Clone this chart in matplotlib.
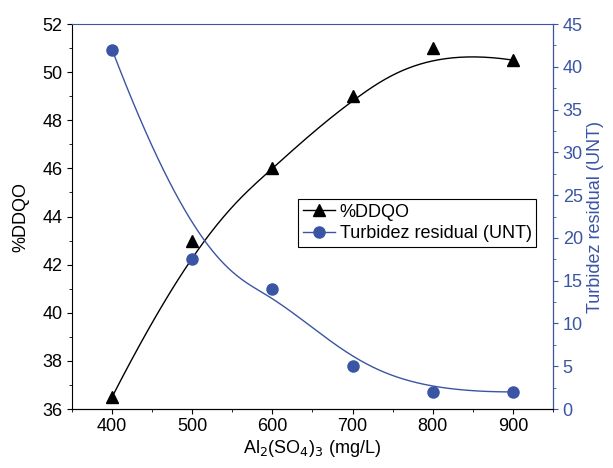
import numpy as np
import matplotlib
matplotlib.use('Agg')
import matplotlib.pyplot as plt
from matplotlib.ticker import MultipleLocator

plt.rcParams.update({'font.family': 'Liberation Sans', 'font.size': 13,
                     'xtick.direction': 'out', 'ytick.direction': 'out'})

BLUE = '#3A55A4'

dose = [400, 500, 600, 700, 800, 900]
ddqo = [36.5, 43.0, 46.0, 49.0, 51.0, 50.5]
turb = [42.0, 17.5, 14.0, 5.0, 2.0, 2.0]


def bspline(xp, yp, n=300, k=3):
    # clamped cubic B-spline using the points as control points
    pts = np.column_stack([xp, yp]).astype(float)
    m = len(pts)
    knots = np.concatenate([np.zeros(k), np.arange(m - k + 1), np.full(k, m - k)]).astype(float)
    t = np.linspace(0, m - k, n)
    t[-1] -= 1e-9
    N = np.zeros((n, len(knots) - 1))
    for i in range(len(knots) - 1):
        N[:, i] = (knots[i] <= t) & (t < knots[i + 1])
    for d in range(1, k + 1):
        Nn = np.zeros((n, len(knots) - 1 - d))
        for i in range(len(knots) - 1 - d):
            a = knots[i + d] - knots[i]
            b = knots[i + d + 1] - knots[i + 1]
            if a > 0:
                Nn[:, i] += (t - knots[i]) / a * N[:, i]
            if b > 0:
                Nn[:, i] += (knots[i + d + 1] - t) / b * N[:, i + 1]
        N = Nn
    c = N @ pts
    return c[:, 0], c[:, 1]


fig = plt.figure(figsize=(6.13, 4.68), dpi=100)
ax = fig.add_axes([0.1175, 0.126, 0.7845, 0.8227])
ax2 = ax.twinx()

bx, by = bspline(dose, ddqo)
ax.plot(bx, by, color='black', lw=1.0)
ax.plot(dose, ddqo, ls='none', marker='^', ms=8, color='black')
bx, by = bspline(dose, turb)
ax2.plot(bx, by, color=BLUE, lw=1.0)
ax2.plot(dose, turb, ls='none', marker='o', ms=8, color=BLUE)

ax.set_xlim(350, 950)
ax.set_ylim(36, 52)
ax2.set_ylim(0, 45)
ax.xaxis.set_major_locator(MultipleLocator(100))
ax.xaxis.set_minor_locator(MultipleLocator(50))
ax.yaxis.set_major_locator(MultipleLocator(2))
ax.yaxis.set_minor_locator(MultipleLocator(1))
ax2.yaxis.set_major_locator(MultipleLocator(5))
ax2.yaxis.set_minor_locator(MultipleLocator(2.5))
ax.tick_params(axis='x', pad=3)

ax.set_xlabel('Al$_2$(SO$_4$)$_3$ (mg/L)', labelpad=2)
ax.set_ylabel('%DDQO', labelpad=9)
ax2.set_ylabel('Turbidez residual (UNT)', color=BLUE, labelpad=3)
ax2.tick_params(axis='y', which='both', colors=BLUE)
ax2.spines['right'].set_color(BLUE)
ax2.spines['top'].set_color(BLUE)
ax.spines['top'].set_visible(False)
ax2.spines['left'].set_visible(False)

h1 = plt.Line2D([], [], color='black', marker='^', ms=8, lw=1.0)
h2 = plt.Line2D([], [], color=BLUE, marker='o', ms=8, lw=1.0)
leg = ax2.legend([h1, h2], ['%DDQO', 'Turbidez residual (UNT)'], loc='upper left',
                 bbox_to_anchor=(0.47, 0.545), fancybox=False, edgecolor='black',
                 framealpha=1, borderpad=0.25, labelspacing=0.25, handlelength=1.8,
                 handletextpad=0.25, borderaxespad=0)
leg.get_frame().set_linewidth(0.8)

fig.savefig('out.png', dpi=100)
